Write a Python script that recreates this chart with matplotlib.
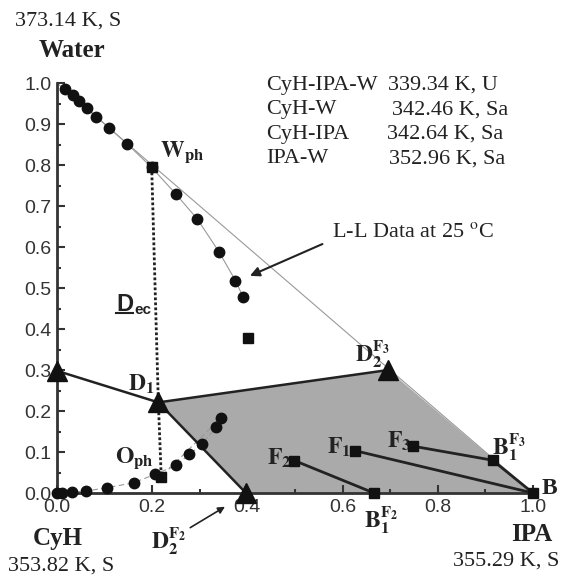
import matplotlib
matplotlib.use('Agg')
import matplotlib.pyplot as plt
from matplotlib.ticker import MultipleLocator

# L-L data at 25 C (x = IPA, y = water)
upper_x = [0.017, 0.033, 0.046, 0.064, 0.083, 0.110, 0.148, 0.199, 0.250, 0.295, 0.340, 0.375, 0.391]
upper_y = [0.985, 0.971, 0.957, 0.938, 0.918, 0.890, 0.851, 0.794, 0.729, 0.668, 0.589, 0.518, 0.478]
lower_x = [0.0, 0.010, 0.032, 0.062, 0.106, 0.161, 0.207, 0.251, 0.278, 0.304, 0.334, 0.345]
lower_y = [0.0, 0.001, 0.002, 0.005, 0.013, 0.025, 0.046, 0.068, 0.094, 0.119, 0.160, 0.184]

w_ph = (0.199, 0.794)
o_ph = (0.219, 0.040)
extra_sq = (0.402, 0.379)

# triangles
tri_x = [0.0, 0.213, 0.397, 0.696]
tri_y = [0.298, 0.221, 0.0, 0.300]
D1 = (0.213, 0.221)
D2F2 = (0.397, 0.0)
D2F3 = (0.696, 0.300)

# feeds and bottoms
F1 = (0.627, 0.103)
F2 = (0.499, 0.079)
F3 = (0.749, 0.114)
B1F2 = (0.666, 0.0)
B1F3 = (0.915, 0.080)
B = (1.0, 0.0)

xticks = [0.0, 0.2, 0.4, 0.6, 0.8, 1.0]
yticks = [0.0, 0.1, 0.2, 0.3, 0.4, 0.5, 0.6, 0.7, 0.8, 0.9, 1.0]

legend_names = ['CyH-IPA-W', 'CyH-W', 'CyH-IPA', 'IPA-W']
legend_vals = ['339.34 K, U', '342.46 K, Sa', '342.64 K, Sa', '352.96 K, Sa']
legend_x2 = [0.696, 0.704, 0.693, 0.697]

serif = 'Liberation Serif'
sans = 'Liberation Sans'
ink = '#222222'

fig = plt.figure(figsize=(5.64, 5.75), dpi=100)
ax = fig.add_axes([0.101, 0.1426, 0.844, 0.713])

# shaded region
ax.fill([D1[0], D2F3[0], B[0], D2F2[0]], [D1[1], D2F3[1], B[1], D2F2[1]],
        color='#aaaaaa', zorder=1, lw=0)

# hypotenuse
ax.plot([0, 1], [1, 0], color='#999999', lw=0.8, zorder=2)

# binodal connecting lines
ax.plot(upper_x, upper_y, color='#999999', lw=0.8, zorder=2)
ax.plot(lower_x + [o_ph[0]], lower_y + [o_ph[1]], color='#999999', lw=0.8,
        ls=(0, (5, 3)), zorder=2)

# region boundaries
ax.plot([0.0, D1[0]], [0.298, D1[1]], color=ink, lw=1.8, zorder=3)
ax.plot([D1[0], D2F3[0]], [D1[1], D2F3[1]], color=ink, lw=1.8, zorder=3)
ax.plot([D1[0], D2F2[0]], [D1[1], D2F2[1]], color=ink, lw=1.8, zorder=3)
ax.plot([w_ph[0], D1[0], o_ph[0]], [w_ph[1], D1[1], o_ph[1]], color=ink,
        lw=2, ls=(0, (1, 0.8)), zorder=3)

# column lines
for a, b in [(F2, B1F2), (F1, B), (F3, B1F3), (B1F3, B)]:
    ax.plot([a[0], b[0]], [a[1], b[1]], color=ink, lw=2, zorder=3)

# markers
ax.plot(upper_x, upper_y, 'o', color='#111111', ms=7.5, zorder=5, clip_on=False)
ax.plot(lower_x, lower_y, 'o', color='#111111', ms=7.5, zorder=5, clip_on=False)
sq_x = [w_ph[0], o_ph[0], extra_sq[0], F1[0], F2[0], F3[0], B1F2[0], B1F3[0], B[0]]
sq_y = [w_ph[1], o_ph[1], extra_sq[1], F1[1], F2[1], F3[1], B1F2[1], B1F3[1], B[1]]
ax.plot(sq_x, sq_y, 's', color='#111111', ms=6.5, zorder=5, clip_on=False)
ax.plot(tri_x, tri_y, '^', color='#111111', ms=14, zorder=6, clip_on=False)

# axes styling
for s in ['top', 'right']:
    ax.spines[s].set_visible(False)
for s in ['left', 'bottom']:
    ax.spines[s].set_linewidth(2)
    ax.spines[s].set_color('#333333')
ax.set_xticks(xticks)
ax.set_yticks(yticks)
ax.set_xticklabels([f'{v:.1f}' for v in xticks], family=sans)
ax.set_yticklabels([f'{v:.1f}' for v in yticks], family=sans)
ax.xaxis.set_minor_locator(MultipleLocator(0.1))
ax.yaxis.set_minor_locator(MultipleLocator(0.05))
ax.tick_params(which='both', direction='in', width=1.5, color='#333333', labelcolor='#333333')
ax.tick_params(which='major', length=6, labelsize=14, pad=4)
ax.tick_params(which='minor', length=3)
ax.set_xlim(0, 1.0)
ax.set_ylim(0, 1.0)

# point labels
lab = dict(fontsize=17, math_fontfamily='stix', color=ink, clip_on=False)
ax.text(0.216, 0.820, r'$\mathbf{W}_{\mathbf{ph}}$', **lab)
ax.text(0.149, 0.250, r'$\mathbf{D}_{\mathbf{1}}$', **lab)
ax.text(0.122, 0.075, r'$\mathbf{O}_{\mathbf{ph}}$', **lab)
ax.text(0.198, -0.134, r'$\mathbf{D}_{\mathbf{2}}^{\mathbf{F_2}}$', **lab)
ax.text(0.626, 0.322, r'$\mathbf{D}_{\mathbf{2}}^{\mathbf{F_3}}$', **lab)
ax.text(0.441, 0.068, r'$\mathbf{F}_{\mathbf{2}}$', **lab)
ax.text(0.567, 0.097, r'$\mathbf{F}_{\mathbf{1}}$', **lab)
ax.text(0.693, 0.110, r'$\mathbf{F}_{\mathbf{3}}$', **lab)
ax.text(0.645, -0.083, r'$\mathbf{B}_{\mathbf{1}}^{\mathbf{F_2}}$', **lab)
ax.text(0.914, 0.093, r'$\mathbf{B}_{\mathbf{1}}^{\mathbf{F_3}}$', **lab)
ax.text(1.019, -0.002, 'B', ha='left', va='baseline', clip_on=False, family=serif,
        fontweight='bold', fontsize=17, color=ink)
ax.text(0.125, 0.445, 'D', fontsize=17, fontweight='bold', family=sans, color=ink)
ax.text(0.163, 0.437, 'ec', fontsize=11, fontweight='bold', family=sans, color=ink)
ax.plot([0.125, 0.160], [0.438, 0.438], color=ink, lw=1.5)

# arrows
ax.annotate('', xy=(0.358, -0.03), xytext=(0.275, -0.088), annotation_clip=False,
            arrowprops=dict(arrowstyle='-|>', color=ink, lw=1.2, mutation_scale=10))
ax.annotate('', xy=(0.400, 0.527), xytext=(0.563, 0.610),
            arrowprops=dict(arrowstyle='-|>', color=ink, lw=1.5, mutation_scale=14))
ax.text(0.578, 0.635, 'L-L Data at 25 $^{\\mathrm{o}}$C', family=serif, fontsize=16,
        va='center', color=ink, math_fontfamily='stix')

# legend block
for i in range(4):
    yy = 0.995 - i * 0.060
    ax.text(0.440, yy, legend_names[i], family=serif, fontsize=16, va='center', color=ink)
    ax.text(legend_x2[i], yy, legend_vals[i], family=serif, fontsize=16, va='center', color=ink)

# vertex labels
fig.text(0.120, 0.963, '373.14 K, S', family=serif, fontsize=16, ha='center', va='center', color=ink)
fig.text(0.128, 0.913, 'Water', family=serif, fontsize=18, fontweight='bold', ha='center', va='center',
         color=ink)
fig.text(0.102, 0.064, 'CyH', family=serif, fontsize=18, fontweight='bold', ha='center', va='center',
         color=ink)
fig.text(0.108, 0.016, '353.82 K, S', family=serif, fontsize=16, ha='center', va='center', color=ink)
fig.text(0.942, 0.071, 'IPA', family=serif, fontsize=18, fontweight='bold', ha='center', va='center',
         color=ink)
fig.text(0.897, 0.024, '355.29 K, S', family=serif, fontsize=16, ha='center', va='center', color=ink)

fig.savefig('out.png', dpi=100)
